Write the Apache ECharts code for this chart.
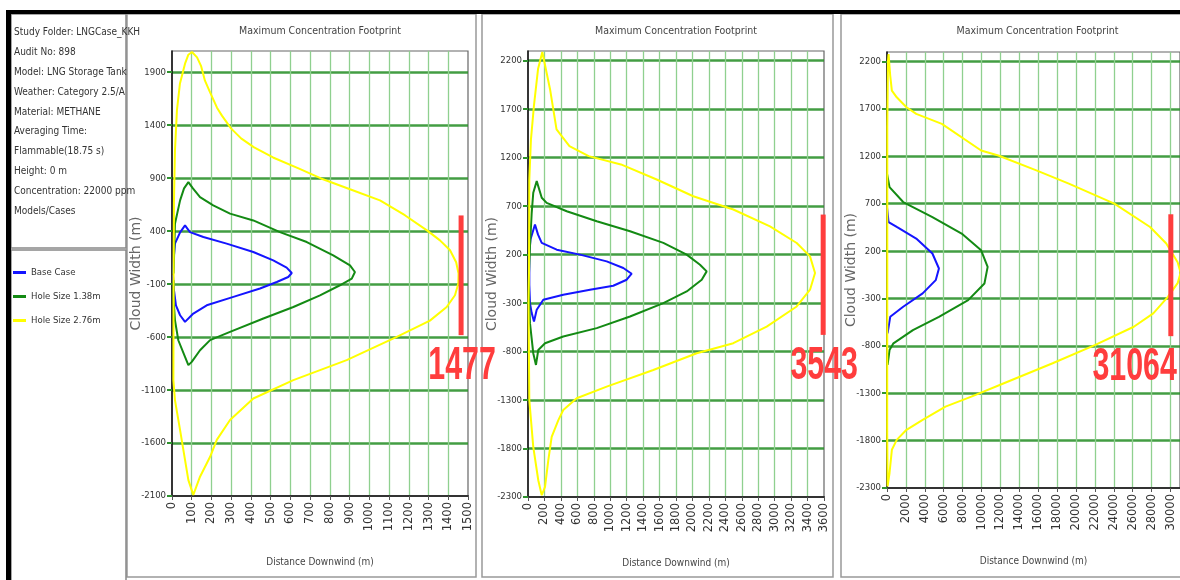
<!DOCTYPE html>
<html><head><meta charset="utf-8">
<script src="https://cdn.jsdelivr.net/npm/echarts@6/dist/echarts.min.js"></script>
<style>html,body{margin:0;padding:0;background:#fff;overflow:hidden}#c{width:1180px;height:580px}</style>
</head><body><div id="c"></div>
<script>
// ---------- text ----------
const infoLines = [
  'Study Folder: LNGCase_KKH',
  'Audit No: 898',
  'Model: LNG Storage Tank',
  'Weather: Category 2.5/A',
  'Material: METHANE',
  'Averaging Time:',
  'Flammable(18.75 s)',
  'Height: 0 m',
  'Concentration: 22000 ppm',
  'Models/Cases'
];
const seriesNames = ['Base Case', 'Hole Size 1.38m', 'Hole Size 2.76m'];
const chartTitle = 'Maximum Concentration Footprint';
const xAxisName = 'Distance Downwind (m)';
const yAxisName = 'Cloud Width (m)';

// ---------- axis ranges per panel ----------
const xMaxes = [1500, 3600, 31000];
const xSteps = [100, 200, 2000];
const yMins = [-2100, -2300, -2300];
const yMaxes = [2100, 2300, 2300];
const ySteps = [500, 500, 500];

// ---------- footprint contours [distance, width] ----------
// Panel 1
const p1Base = [[5,0],[10,172],[15,282],[41,388],[66,454],[91,391],[159,344],[277,282],[412,203],[513,124],[581,56],[607,5],[589,-33],[531,-80],[446,-142],[311,-221],[176,-300],[108,-378],[66,-457],[41,-394],[20,-300],[10,-158],[5,-17]];
const p1Hole138 = [[8,0],[15,470],[41,690],[61,803],[83,862],[106,803],[142,721],[209,643],[294,565],[412,501],[547,391],[683,297],[817,172],[902,77],[927,14],[911,-48],[851,-111],[750,-206],[615,-316],[463,-425],[294,-551],[193,-629],[142,-724],[100,-834],[83,-865],[66,-787],[32,-630],[15,-441],[7,-221],[8,-64]];
const p1Hole276 = [[8,0],[10,690],[15,1160],[25,1540],[40,1790],[66,1980],[83,2065],[101,2090],[127,2040],[147,1960],[167,1820],[193,1710],[228,1565],[253,1490],[299,1370],[350,1275],[416,1190],[512,1095],[644,990],[755,897],[902,795],[1054,690],[1180,550],[1292,407],[1358,313],[1409,219],[1440,106],[1452,0],[1451,-95],[1434,-205],[1392,-316],[1307,-445],[1139,-598],[885,-818],[615,-1006],[412,-1180],[294,-1383],[227,-1570],[193,-1730],[142,-1918],[108,-2090],[83,-1950],[41,-1478],[15,-1195],[7,-1006],[8,-160],[8,0]];
// Panel 2
const p2Base = [[16,3],[16,217],[30,355],[85,510],[122,406],[167,321],[349,251],[632,200],[957,130],[1159,62],[1261,3],[1200,-59],[1037,-121],[754,-162],[429,-214],[186,-266],[106,-369],[73,-490],[45,-403],[24,-300],[16,-111],[16,3]];
const p2Hole138 = [[12,3],[24,285],[45,631],[64,838],[106,958],[167,786],[227,734],[471,647],[836,544],[1241,441],[1646,321],[1930,200],[2092,96],[2173,27],[2113,-59],[1930,-180],[1646,-300],[1241,-438],[836,-558],[429,-645],[207,-714],[125,-783],[97,-938],[64,-817],[24,-507],[12,-232],[12,3]];
const p2Hole276 = [[12,3],[16,975],[36,1389],[72,1733],[122,2114],[174,2290],[268,1906],[347,1492],[504,1320],[738,1216],[1130,1130],[1565,975],[2010,802],[2497,665],[2943,492],[3268,320],[3430,182],[3491,10],[3430,-162],[3268,-335],[2903,-542],[2497,-714],[2052,-817],[1524,-990],[957,-1162],[592,-1282],[429,-1403],[369,-1507],[288,-1680],[247,-1920],[207,-2196],[167,-2282],[125,-2127],[64,-1783],[16,-1300],[6,-266],[12,3]];
// Panel 3
const p3Base = [[0,664],[165,506],[1031,454],[3093,332],[4804,174],[5495,16],[5155,-107],[3773,-247],[1711,-388],[340,-494],[62,-668]];
const p3Hole138 = [[0,1016],[268,875],[1711,717],[4804,559],[7897,384],[9959,208],[10649,33],[10309,-142],[8588,-318],[5495,-494],[2742,-634],[680,-774],[268,-844],[62,-1002]];
const p3Hole276 = [[30,0],[30,1500],[100,2200],[165,2279],[340,2050],[515,1893],[1031,1822],[2062,1717],[3093,1647],[5804,1542],[9959,1261],[11773,1208],[15804,1051],[19237,911],[24052,700],[27835,454],[29546,279],[30750,82],[31064,-30],[30750,-139],[29718,-283],[28172,-458],[26110,-599],[21986,-792],[17526,-984],[12371,-1195],[8928,-1336],[6186,-1441],[3773,-1581],[2062,-1686],[1031,-1792],[515,-1897],[268,-2142],[62,-2283],[20,-1700],[30,0]];

// ---------- red distance annotations ----------
const markerX = [1465, 3590, 30030];
const markerTop = [548, 613, 588];
const markerBottom = [-582, -628, -698];
const markerText = ['1477', '3543', '31064'];

// ---------- build ----------
const panels = [
  [p1Base, p1Hole138, p1Hole276],
  [p2Base, p2Hole138, p2Hole276],
  [p3Base, p3Hole138, p3Hole276]
];
const colors = ['#1414ff', '#138a13', '#ffff00'];
const NARROW = "'Liberation Sans Narrow','DejaVu Sans Condensed','Arial Narrow',sans-serif";
const WIDE = "'DejaVu Sans','Liberation Sans',sans-serif";
const plain = v => String(v);
const gridBoxes = [
  {left: 172, top: 51, width: 296, height: 445},
  {left: 528, top: 51, width: 296, height: 446},
  {left: 887, top: 52, width: 301, height: 436}
];

const grids = [], xAxes = [], yAxes = [], series = [], titles = [];
gridBoxes.forEach((g, i) => {
  grids.push(Object.assign({show: true, borderColor: '#666', borderWidth: 1.2, backgroundColor: '#fff'}, g));
  titles.push({text: chartTitle, left: g.left + g.width / 2, top: 26, textAlign: 'center', padding: 0,
    textStyle: {fontFamily: NARROW, fontSize: 10.5, fontWeight: 'normal', color: '#444'}});
  xAxes.push({
    type: 'value', gridIndex: i, min: 0, max: xMaxes[i], interval: xSteps[i],
    name: xAxisName, nameLocation: 'middle', nameGap: i === 2 ? 68 : 61,
    nameTextStyle: {fontFamily: NARROW, fontSize: 10, color: '#444'},
    axisLine: {show: true, onZero: false, lineStyle: {color: '#333', width: 2}},
    axisTick: {show: true, length: 4, lineStyle: {color: '#555'}},
    axisLabel: {rotate: 90, margin: 6, fontFamily: WIDE, fontSize: 11.5, color: '#333', showMaxLabel: i !== 2, formatter: plain},
    splitLine: {show: true, showMinLine: false, showMaxLine: false, lineStyle: {color: '#8fd08f', width: 1.3}}
  });
  yAxes.push({
    type: 'value', gridIndex: i, min: yMins[i], max: yMaxes[i], interval: ySteps[i],
    name: yAxisName, nameLocation: 'middle', nameGap: 29, nameMoveOverlap: false,
    nameTextStyle: {fontFamily: WIDE, fontSize: 14, color: '#666'},
    axisLine: {show: true, onZero: false, lineStyle: {color: '#111', width: 1.5}},
    axisTick: {show: true, length: 5, lineStyle: {color: '#2f922f', width: 2}},
    axisLabel: {margin: 6, fontFamily: NARROW, fontSize: 9.5, color: '#333', showMaxLabel: false, formatter: plain},
    splitLine: {show: true, showMinLine: false, showMaxLine: false, lineStyle: {color: '#2f922f', width: 2.5, opacity: 0.9}}
  });
  panels[i].forEach((d, k) => {
    series.push({
      name: seriesNames[k], type: 'line', xAxisIndex: i, yAxisIndex: i, data: d,
      symbol: 'none', showSymbol: false, smooth: false, animation: false,
      lineStyle: {color: colors[k], width: 2}, itemStyle: {color: colors[k]}
    });
  });
  series.push({
    name: 'marker' + i, type: 'line', xAxisIndex: i, yAxisIndex: i,
    data: [[markerX[i], markerTop[i]], [markerX[i], markerBottom[i]]],
    symbol: 'none', clip: false, animation: false, z: 5,
    lineStyle: {color: '#ff3d3d', width: 5, cap: 'butt'}
  });
});

titles.push({text: infoLines.join('\n'), left: 14, top: 23, padding: 0,
  textStyle: {fontFamily: NARROW, fontSize: 10, fontWeight: 'normal', color: '#333', lineHeight: 19.8}});

const frame = (x, y, w, h, color, lw) => ({type: 'rect', z: -10, silent: true, shape: {x, y, width: w, height: h},
  style: {fill: 'none', stroke: color, lineWidth: lw}});
const graphics = [
  frame(127, 14, 349, 563, '#999', 1.5),
  frame(482, 14, 351, 563, '#999', 1.5),
  frame(841, 14, 360, 563, '#999', 1.5),
  frame(11, 14, 115, 234, '#888', 1.5),
  frame(11, 250, 115, 335, '#888', 1.5),
  {type: 'rect', z: 10, silent: true, shape: {x: 6, y: 10, width: 1174, height: 4}, style: {fill: '#000'}},
  {type: 'rect', z: 10, silent: true, shape: {x: 6, y: 10, width: 5, height: 570}, style: {fill: '#000'}}
];

const chart = echarts.init(document.getElementById('c'), null, {renderer: 'canvas'});
chart.setOption({
  backgroundColor: '#fff',
  animation: false,
  title: titles,
  legend: {data: seriesNames, orient: 'vertical', left: 13, top: 266, padding: 0, itemGap: 11,
    icon: 'rect', itemWidth: 13, itemHeight: 3,
    textStyle: {fontFamily: NARROW, fontSize: 9.5, lineHeight: 13, color: '#333'}},
  grid: grids, xAxis: xAxes, yAxis: yAxes, series: series, graphic: graphics
});

// big red distance labels, placed under each marker through the axis scales
const labelGraphics = markerText.map((t, i) => {
  const p = chart.convertToPixel({gridIndex: i}, [markerX[i], markerBottom[i]]);
  return {type: 'text', z: 20, silent: true, x: p[0] + (i === 2 ? 6 : 1), y: p[1] + 8, scaleX: 0.66,
    style: {text: t, align: i === 2 ? 'right' : 'center', verticalAlign: 'top',
      font: "bold 46px 'Liberation Sans', Arial, sans-serif", fill: '#ff3d3d'}};
});
chart.setOption({graphic: graphics.concat(labelGraphics)});
</script></body></html>
